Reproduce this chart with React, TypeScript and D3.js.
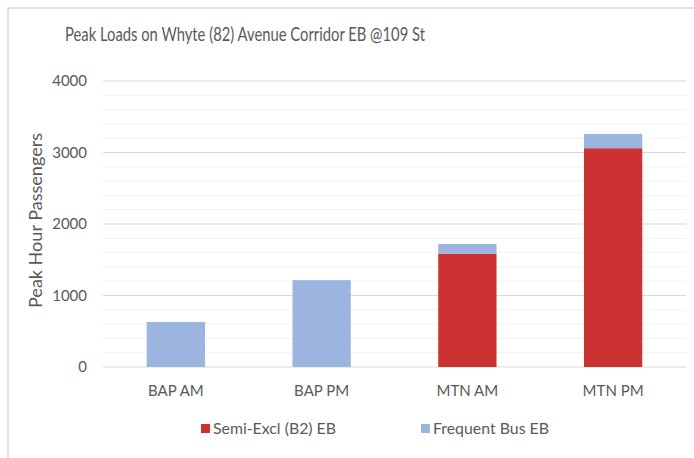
import React, { useEffect, useRef } from 'react';
import * as d3 from 'd3';

const categories = ['BAP AM', 'BAP PM', 'MTN AM', 'MTN PM'];
const semiExcl = [0, 0, 1585, 3060];
const frequentBus = [630, 1215, 135, 200];
const seriesNames = ['Semi-Excl (B2) EB', 'Frequent Bus EB'];
const seriesColors = ['#cd3232', '#9bb4e0'];
const yTicks = [0, 1000, 2000, 3000, 4000];

const title = 'Peak Loads on Whyte (82) Avenue Corridor EB @109 St';
const font = 'Lato, "Open Sans", sans-serif';
const textColor = '#595959';

export default function App() {
  const svgRef = useRef<SVGSVGElement>(null);

  useEffect(() => {
    if (!svgRef.current) return;
    const root = d3.select(svgRef.current);
    root.selectAll('*').remove();

    const W = 694;
    const H = 458;
    const plot = { left: 103, right: 686, top: 81, bottom: 367 };

    // chart frame (only top and left edges visible)
    root.append('path')
      .attr('d', `M8,${H} L8,8 L${W},8`)
      .attr('fill', 'none')
      .attr('stroke', '#d9d9d9')
      .attr('stroke-width', 1.5);

    root.append('text')
      .attr('x', 65)
      .attr('y', 41)
      .attr('fill', textColor)
      .attr('textLength', 360)
      .attr('lengthAdjust', 'spacingAndGlyphs')
      .style('font-family', font)
      .style('font-size', '19px')
      .text(title);

    const x = d3.scaleBand<string>()
      .domain(categories)
      .range([plot.left, plot.right])
      .paddingInner(0.6)
      .paddingOuter(0.3);

    const y = d3.scaleLinear().domain([0, 4000]).range([plot.bottom, plot.top]);

    const g = root.append('g');

    // minor grid lines every 200
    g.append('g')
      .selectAll('line')
      .data(d3.range(200, 4000, 200).filter(v => v % 1000 !== 0))
      .join('line')
      .attr('x1', plot.left)
      .attr('x2', plot.right)
      .attr('y1', d => y(d))
      .attr('y2', d => y(d))
      .attr('stroke', '#f2f2f2')
      .attr('stroke-width', 1);

    // major grid lines
    g.append('g')
      .selectAll('line')
      .data(yTicks)
      .join('line')
      .attr('x1', plot.left)
      .attr('x2', plot.right)
      .attr('y1', d => y(d))
      .attr('y2', d => y(d))
      .attr('stroke', '#d9d9d9')
      .attr('stroke-width', 1);

    // y tick labels
    g.append('g')
      .selectAll('text')
      .data(yTicks)
      .join('text')
      .attr('x', 87)
      .attr('y', d => y(d))
      .attr('dy', '0.35em')
      .attr('text-anchor', 'end')
      .attr('fill', textColor)
      .style('font-family', font)
      .style('font-size', '15px')
      .text(d => d);

    // y axis title
    root.append('text')
      .attr('transform', `translate(42,220.5) rotate(-90)`)
      .attr('text-anchor', 'middle')
      .attr('fill', textColor)
      .attr('textLength', 175)
      .attr('lengthAdjust', 'spacingAndGlyphs')
      .style('font-family', font)
      .style('font-size', '17px')
      .text('Peak Hour Passengers');

    // stacked bars
    const rows = categories.map((c, i) => ({ cat: c, s0: semiExcl[i], s1: frequentBus[i] }));
    const stack = d3.stack<any>().keys(['s0', 's1'])(rows);

    stack.forEach((layer, li) => {
      g.append('g')
        .selectAll('rect')
        .data(layer.filter(d => d[1] > d[0]))
        .join('rect')
        .attr('x', d => x(d.data.cat) as number)
        .attr('width', x.bandwidth())
        .attr('y', d => y(d[1]))
        .attr('height', d => y(d[0]) - y(d[1]))
        .attr('fill', seriesColors[li]);
    });

    // category labels
    g.append('g')
      .selectAll('text')
      .data(categories)
      .join('text')
      .attr('x', d => (x(d) as number) + x.bandwidth() / 2)
      .attr('y', 396)
      .attr('text-anchor', 'middle')
      .attr('fill', textColor)
      .style('font-family', font)
      .style('font-size', '15px')
      .text(d => d);

    // legend
    const legendX = [201, 421];
    const legendLen = [123, 116];
    seriesNames.forEach((name, i) => {
      root.append('rect')
        .attr('x', legendX[i])
        .attr('y', 424)
        .attr('width', 9)
        .attr('height', 9)
        .attr('fill', seriesColors[i]);
      root.append('text')
        .attr('x', legendX[i] + 12)
        .attr('y', 434)
        .attr('fill', textColor)
        .attr('textLength', legendLen[i])
        .attr('lengthAdjust', 'spacingAndGlyphs')
        .style('font-family', font)
        .style('font-size', '15.5px')
        .text(name);
    });
  }, []);

  return (
    <svg
      ref={svgRef}
      width={694}
      height={458}
      style={{ position: 'absolute', left: 0, top: 0, background: '#fff' }}
    />
  );
}
